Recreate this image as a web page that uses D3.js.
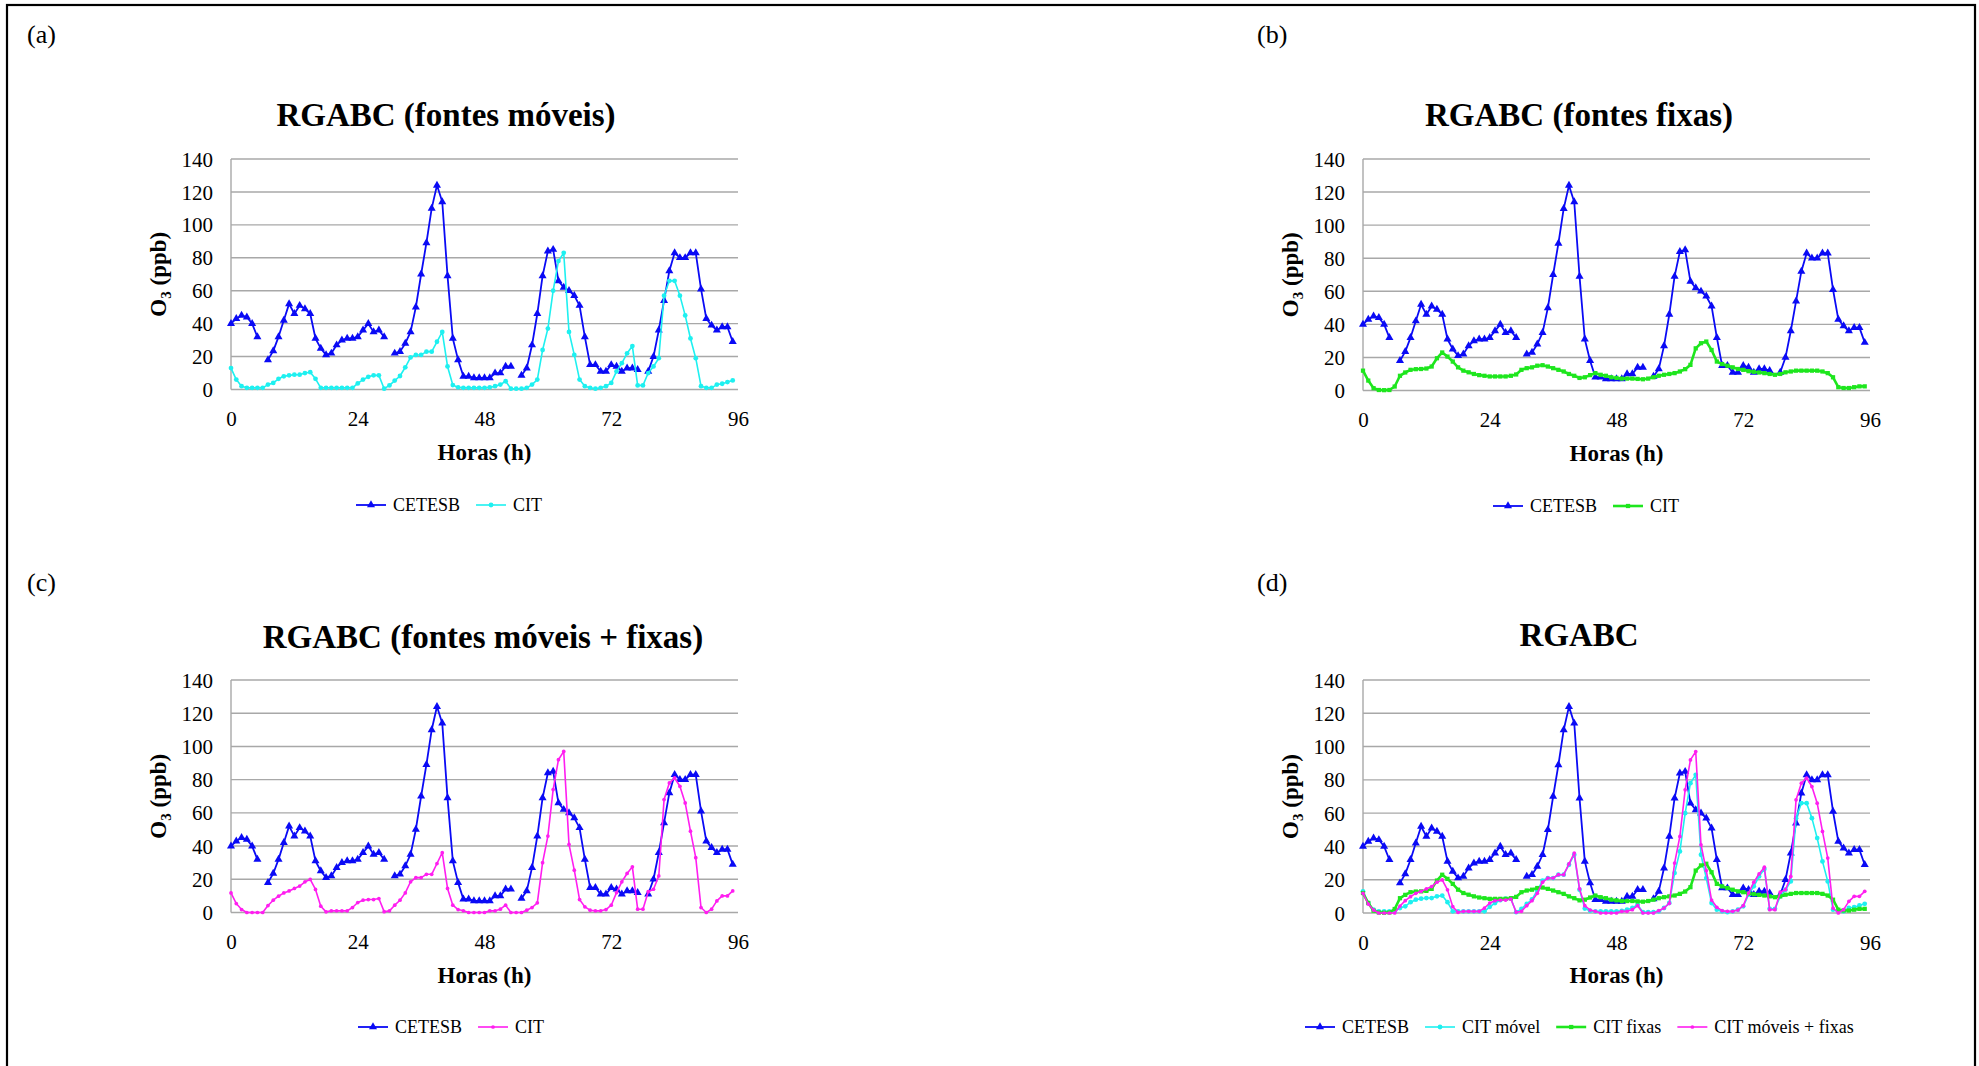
<!DOCTYPE html>
<html>
<head>
<meta charset="utf-8">
<script src="https://cdn.jsdelivr.net/npm/d3@7"></script>
<style>
  body { margin: 0; background: #fff; }
  text { font-family: "Liberation Serif", "Times New Roman", serif; fill: #000; }
</style>
</head>
<body>
<div id="chart"></div>
<script>
// Dados (horas 0..95, O3 em ppb)
const hours = d3.range(0, 96);

const cetesb = [40, 43, 45, 44, 40, 32, null, 18, 23.5, 32,
  42, 52, 46, 51, 49, 46, 31, 25, 21, 22,
  27, 30, 31, 31, 32, 36, 40, 35, 36, 32,
  null, 22, 23, 28, 35, 50, 70, 89, 110, 124,
  114, 69, 31, 18, 8, 8, 7, 7, 7, 7,
  10, 10, 14, 14, null, 8.5, 13, 27, 46, 69,
  84, 85, 66, 62, 60, 57, 51, 32, 15, 15,
  11, 11, 15, 14, 11, 13, 13, 12, null, 11,
  20, 36, 54, 72, 83, 80, 80, 83, 83, 61,
  43, 39, 36, 38, 38, 29];

const citMovel = [13, 6, 2, 1, 1, 1, 1, 3, 4, 6.5,
  8, 8.6, 9, 9, 10, 10.5, 6.5, 1, 1, 1,
  1, 1, 1, 1, 3.7, 6, 7.7, 8.6, 8.6, 0.5,
  2.5, 5.4, 8.2, 13.5, 19.5, 21, 21, 23, 23, 29,
  35, 14, 2.7, 1.3, 1, 1, 1, 1, 1, 1.3,
  2, 3, 5, 0.5, 0.5, 0.5, 1, 3, 6, 24,
  37, 60, 78, 83, 35, 21, 6, 2, 1, 0.5,
  1, 2, 4, 11, 16, 22, 26.4, 2.5, 2.5, 10,
  14, 19, 57, 66, 66, 57, 45, 31, 19, 2,
  1, 1, 3, 3.5, 4.5, 5.5];

const citFixas = [12, 6, 1.4, 0.3, 0.2, 0.3, 2.4, 8.9, 10.9, 12.5,
  12.9, 13, 13.3, 14.5, 19.5, 23, 20.5, 17.5, 14, 12,
  11, 10, 9.3, 8.9, 8.5, 8.5, 8.5, 8.5, 8.9, 9.7,
  12.5, 13.5, 14, 15, 15.3, 14.5, 13.5, 12.5, 11.5, 10,
  8.9, 7.6, 8, 9.3, 10.5, 9.5, 8.9, 8, 7.6, 7.2,
  7.2, 7.2, 7, 6.8, 7.2, 8, 8.9, 9.5, 10, 10.5,
  11.5, 12.9, 15.5, 25.5, 28.6, 29.6, 24.5, 17.5, 16, 15,
  14, 13, 12.5, 11.7, 11.3, 10.9, 10.5, 10, 9.5, 10,
  11, 11.5, 12, 12, 12, 12, 12, 11.5, 10.5, 8,
  2, 1.5, 1.5, 2, 2.5, 2.5];

const citMoveisFixas = [11.8, 5.4, 1.8, 0, 0, 0, 0, 4.2, 7.4, 9.8,
  11.8, 13, 14.5, 15.9, 18.5, 19.9, 13.9, 3.8, 0.4, 1,
  1, 1, 1, 3, 6, 7.4, 7.8, 7.8, 8.4, 0.5,
  1, 4.4, 7.4, 11.8, 18.5, 21, 21, 23, 23, 29.5,
  36, 14.5, 4.4, 1.8, 1, 0, 0, 0, 0, 1,
  1, 2, 4.4, 0, 0, 0, 1.4, 3, 5.8, 30,
  46, 74, 92, 97, 41, 25.5, 7.8, 3.4, 1.4, 1,
  1, 1.8, 4.4, 12, 18.5, 23.5, 27.5, 2, 2, 12.5,
  14, 22, 68, 78, 81, 76, 66, 49, 33, 3,
  0, 2, 7, 10, 10, 13];

const xTicks = [0, 24, 48, 72, 96];
const yTicks = [0, 20, 40, 60, 80, 100, 120, 140];

const panelLabels = ["(a)", "(b)", "(c)", "(d)"];
const panelTitles = ["RGABC (fontes móveis)", "RGABC (fontes fixas)", "RGABC (fontes móveis + fixas)", "RGABC"];

// series: nome, dados, estilo
const series = {
  cetesb: { data: cetesb, color: "#0a0af5", width: 1.8, symbol: d3.symbolTriangle, size: 28 },
  movel: { data: citMovel, color: "#1ef0f0", width: 1.6, symbol: d3.symbolCircle, size: 18 },
  fixas: { data: citFixas, color: "#1ee61e", width: 2.6, symbol: d3.symbolSquare, size: 18 },
  mf: { data: citMoveisFixas, color: "#ff1ef0", width: 1.6, symbol: d3.symbolCircle, size: 11 },
};

const width = 1979;
const height = 1066;

const svg = d3.select("#chart").append("svg")
  .attr("width", width)
  .attr("height", height);

svg.append("rect").attr("width", width).attr("height", height).attr("fill", "#fff");

// moldura
svg.append("rect")
  .attr("x", 7).attr("y", 5)
  .attr("width", 1968).attr("height", 1100)
  .attr("fill", "none").attr("stroke", "#000").attr("stroke-width", 2.2);

const panels = [
  { label: panelLabels[0], labelX: 27, labelY: 43, title: panelTitles[0], titleX: 446, titleY: 126,
    left: 231, right: 738, y0: 389.5, y140: 159, yLabelX: 166,
    legendX: 356, legendY: 505,
    items: [["cetesb", "CETESB"], ["movel", "CIT"]] },
  { label: panelLabels[1], labelX: 1257, labelY: 43, title: panelTitles[1], titleX: 1579, titleY: 126,
    left: 1363, right: 1870, y0: 390.5, y140: 159, yLabelX: 1298,
    legendX: 1493, legendY: 506,
    items: [["cetesb", "CETESB"], ["fixas", "CIT"]] },
  { label: panelLabels[2], labelX: 27, labelY: 591, title: panelTitles[2], titleX: 483, titleY: 648,
    left: 231, right: 738, y0: 912.5, y140: 680, yLabelX: 166,
    legendX: 358, legendY: 1027,
    items: [["cetesb", "CETESB"], ["mf", "CIT"]] },
  { label: panelLabels[3], labelX: 1257, labelY: 591, title: panelTitles[3], titleX: 1579, titleY: 646,
    left: 1363, right: 1870, y0: 913, y140: 680, yLabelX: 1298,
    legendX: 1305, legendY: 1027,
    items: [["cetesb", "CETESB"], ["movel", "CIT móvel"], ["fixas", "CIT fixas"], ["mf", "CIT móveis + fixas"]] },
];

panels.forEach(drawPanel);

function drawPanel(p) {
  const g = svg.append("g");

  const x = d3.scaleLinear().domain([0, 96]).range([p.left, p.right]);
  const y = d3.scaleLinear().domain([0, 140]).range([p.y0, p.y140]);

  g.append("text").attr("x", p.labelX).attr("y", p.labelY)
    .style("font-size", "26px").text(p.label);

  g.append("text").attr("x", p.titleX).attr("y", p.titleY)
    .attr("text-anchor", "middle")
    .style("font-size", "33px").style("font-weight", "bold")
    .text(p.title);

  // grade horizontal
  g.selectAll(".grid").data(yTicks).enter().append("line")
    .attr("x1", p.left).attr("x2", p.right)
    .attr("y1", (d) => y(d)).attr("y2", (d) => y(d))
    .attr("stroke", "#a8a8a8").attr("stroke-width", 1.4);

  g.append("line")
    .attr("x1", p.left).attr("x2", p.left)
    .attr("y1", y(0)).attr("y2", y(140))
    .attr("stroke", "#a8a8a8").attr("stroke-width", 1.4);

  // eixos (só rótulos)
  const yAxis = d3.axisLeft(y).tickValues(yTicks).tickSize(0).tickPadding(18);
  const yg = g.append("g").attr("transform", `translate(${p.left},0)`).call(yAxis);
  yg.select(".domain").remove();
  yg.selectAll("text").style("font-size", "21px").style("font-family", "Liberation Serif").attr("dy", "0.34em");

  const xAxis = d3.axisBottom(x).tickValues(xTicks).tickSize(0).tickPadding(22);
  const xg = g.append("g").attr("transform", `translate(0,${p.y0})`).call(xAxis);
  xg.select(".domain").remove();
  xg.selectAll("text").style("font-size", "21px").style("font-family", "Liberation Serif");

  g.append("text")
    .attr("x", (p.left + p.right) / 2).attr("y", p.y0 + 70)
    .attr("text-anchor", "middle")
    .style("font-size", "23px").style("font-weight", "bold")
    .text("Horas (h)");

  const yl = g.append("text")
    .attr("transform", `translate(${p.yLabelX},${(p.y0 + p.y140) / 2}) rotate(-90)`)
    .attr("text-anchor", "middle")
    .style("font-size", "23px").style("font-weight", "bold");
  yl.append("tspan").text("O");
  yl.append("tspan").attr("dy", 5).style("font-size", "15px").text("3");
  yl.append("tspan").attr("dy", -5).text(" (ppb)");

  // séries
  p.items.forEach(([key]) => {
    const s = series[key];
    const line = d3.line()
      .defined((d, i) => s.data[i] != null)
      .x((d) => x(d))
      .y((d, i) => y(s.data[i]));
    g.append("path").datum(hours)
      .attr("d", line)
      .attr("fill", "none")
      .attr("stroke", s.color)
      .attr("stroke-width", s.width)
      .attr("stroke-linejoin", "round");
    g.selectAll(null).data(hours.filter((h) => s.data[h] != null)).enter()
      .append("path")
      .attr("d", d3.symbol().type(s.symbol).size(s.size))
      .attr("transform", (h) => `translate(${x(h)},${y(s.data[h])})`)
      .attr("fill", s.color);
  });

  // legenda
  let lx = p.legendX;
  p.items.forEach(([key, name]) => {
    const s = series[key];
    g.append("line")
      .attr("x1", lx).attr("x2", lx + 30)
      .attr("y1", p.legendY).attr("y2", p.legendY)
      .attr("stroke", s.color).attr("stroke-width", s.width);
    g.append("path")
      .attr("d", d3.symbol().type(s.symbol).size(s.size))
      .attr("transform", `translate(${lx + 15},${p.legendY})`)
      .attr("fill", s.color);
    const t = g.append("text")
      .attr("x", lx + 37).attr("y", p.legendY + 6)
      .style("font-size", "18px")
      .text(name);
    lx += 37 + t.node().getComputedTextLength() + 16;
  });
}
</script>
</body>
</html>
